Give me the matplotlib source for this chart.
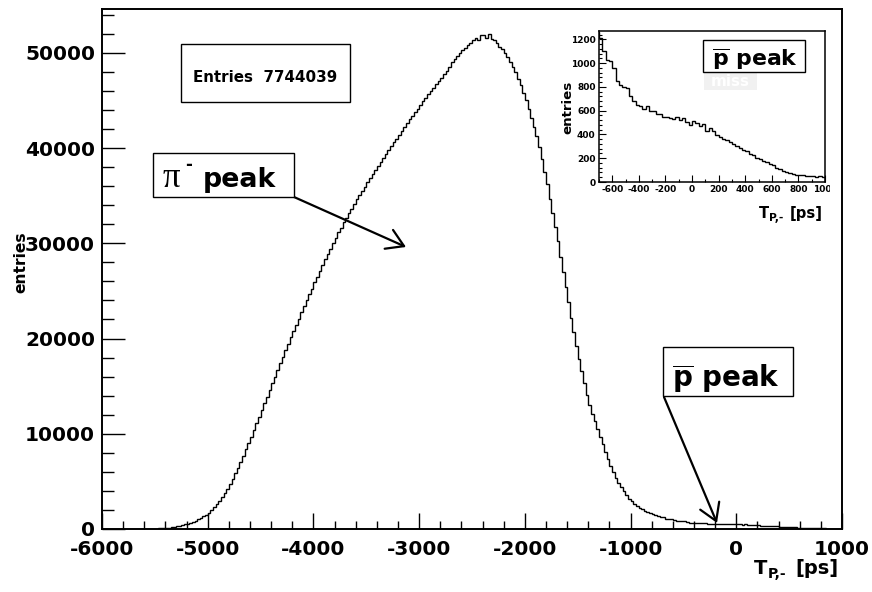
import matplotlib
matplotlib.use("Agg")
import matplotlib.pyplot as plt
from matplotlib.patches import Rectangle
from matplotlib.ticker import MultipleLocator
import numpy as np

# ---- histogram of T_{P,-}: 25 ps bins from -6000 to 1000 ps ----
x_min, x_max, bin_width = -6000, 1000, 25

# bins -6000 ... -725
counts_body = [
    0, 0, 0, 0, 0, 0, 0, 0, 0, 0, 0, 1, 2, 3, 5, 7,
    10, 15, 22, 30,
    40, 55, 72, 95,
    120, 150, 190, 235,
    280, 340, 410, 480,
    560, 650, 760, 880,
    1000, 1150, 1330, 1510,
    1700, 1980, 2270, 2580,
    2900, 3320, 3770, 4230,
    4700, 5250, 5850, 6400,
    7000, 7650, 8350, 9000,
    9700, 10400, 11100, 11800,
    12500, 13200, 13900, 14600,
    15300, 16000, 16700, 17400,
    18100, 18800, 19450, 20150,
    20800, 21450, 22100, 22750,
    23400, 24000, 24650, 25250,
    25900, 26500, 27100, 27700,
    28300, 28900, 29450, 30050,
    30600, 31150, 31650, 32200,
    32700, 33200, 33650, 34150,
    34600, 35050, 35500, 35950,
    36400, 36850, 37250, 37700,
    38100, 38550, 38950, 39400,
    39800, 40200, 40600, 41000,
    41400, 41800, 42200, 42600,
    43000, 43350, 43750, 44150,
    44500, 44900, 45250, 45650,
    46000, 46350, 46700, 47050,
    47400, 47800, 48100, 48550,
    49000, 49300, 49650, 49950,
    50300, 50550, 50850, 51050,
    51300, 51600, 51350, 51850,
    51900, 51600, 52000, 51500,
    51300, 51000, 50600, 50400,
    50000, 49550, 49000, 48500,
    48000, 47300, 46600, 45800,
    45000, 44100, 43200, 42250,
    41300, 40100, 38800, 37500,
    36200, 34700, 33200, 31700,
    30200, 28600, 27000, 25400,
    23800, 22200, 20700, 19200,
    17800, 16550, 15300, 14100,
    13000, 12100, 11300, 10500,
    9700, 8900, 8100, 7300,
    6600, 6000, 5400, 4850,
    4400, 3950, 3550, 3200,
    2900, 2650, 2400, 2200,
    2050, 1900, 1780, 1650,
    1550, 1430, 1330, 1260,
]

# bins -700 ... 975 (the anti-proton region)
counts_tail = [
    1210, 1100, 1030, 1020,
    960, 850, 820, 800,
    790, 720, 680, 650,
    640, 610, 640, 600,
    595, 575, 570, 550,
    545, 540, 530, 545,
    525, 535, 505, 480,
    515, 500, 470, 485,
    425, 450, 430, 395,
    380, 358, 350, 340,
    320, 305, 290, 270,
    262, 235, 225, 205,
    195, 175, 165, 148,
    140, 118, 110, 92,
    85, 75, 68, 60,
    55, 58, 50, 48,
    52, 45, 50, 42,
]

counts = np.array(counts_body + counts_tail, dtype=float)
edges = np.arange(x_min, x_max + bin_width, bin_width)

n_entries = 7744039
main_ylim = (0, 54600)
inset_xlim = (-700, 1000)
inset_ylim = (0, 1270)

# ---- canvas geometry (pixels of an 872x592 image) ----
W, H = 872, 592
plt.rcParams["font.family"] = "DejaVu Sans"
plt.rcParams["font.weight"] = "bold"
plt.rcParams["axes.unicode_minus"] = False
plt.rcParams["mathtext.fontset"] = "dejavusans"


def fx(px):
    return px / W


def fy(py):
    return 1 - py / H


def axes_rect(left, top, right, bottom):
    return [fx(left), fy(bottom), (right - left) / W, (bottom - top) / H]


fig = plt.figure(figsize=(W / 100, H / 100), dpi=100)
fig.patch.set_facecolor("white")
renderer = fig.canvas.get_renderer()


def axis_title(right, baseline, size):
    """Right-aligned 'T_{P,-} [ps]' built from plain text pieces."""
    em = size * 100 / 72
    t1 = fig.text(fx(right), fy(baseline), "[ps]", ha="right", va="baseline",
                  fontsize=size, fontweight="bold")
    left = t1.get_window_extent(renderer).x0 - 0.42 * em
    t2 = fig.text(left / W, fy(baseline + 0.22 * em), "P,-", ha="right",
                  va="baseline", fontsize=0.72 * size, fontweight="bold")
    left = t2.get_window_extent(renderer).x0 - 0.02 * em
    fig.text(left / W, fy(baseline), "T", ha="right", va="baseline",
             fontsize=size, fontweight="bold")


# ---- main histogram ----
ax = fig.add_axes(axes_rect(102, 9, 842, 529))
ax.stairs(counts, edges, color="black", lw=1.0)
ax.set_xlim(x_min, x_max)
ax.set_ylim(*main_ylim)
ax.xaxis.set_major_locator(MultipleLocator(1000))
ax.xaxis.set_minor_locator(MultipleLocator(200))
ax.yaxis.set_major_locator(MultipleLocator(10000))
ax.yaxis.set_minor_locator(MultipleLocator(2000))
ax.tick_params(axis="x", which="major", direction="in", length=11.5, width=1.0,
               labelsize=14.5, pad=8)
ax.tick_params(axis="x", which="minor", direction="in", length=5.8, width=1.0)
ax.tick_params(axis="y", which="major", direction="in", length=16.5, width=1.0,
               labelsize=14.5, pad=5)
ax.tick_params(axis="y", which="minor", direction="in", length=8.3, width=1.0)
for s in ax.spines.values():
    s.set_linewidth(1.4)
for lab in ax.get_xticklabels() + ax.get_yticklabels():
    lab.set_fontweight("bold")

axis_title(838, 574, 14)
fig.text(fx(21), fy(262), "entries", rotation=90, ha="center", va="center",
         fontsize=11.2, fontweight="bold")

# ---- inset: zoom on the anti-proton region ----
ins = fig.add_axes(axes_rect(599, 31, 825, 182))
ins.set_facecolor("white")
ins.stairs(counts, edges, color="black", lw=1.0)
ins.set_xlim(*inset_xlim)
ins.set_ylim(*inset_ylim)
ins.xaxis.set_major_locator(MultipleLocator(200))
ins.xaxis.set_minor_locator(MultipleLocator(100))
ins.yaxis.set_major_locator(MultipleLocator(200))
ins.yaxis.set_minor_locator(MultipleLocator(40))
ins.tick_params(which="major", direction="in", length=5, width=0.8,
                labelsize=6.5, pad=2.5)
ins.tick_params(which="minor", direction="in", length=2.5, width=0.8)
for lab in ins.get_xticklabels() + ins.get_yticklabels():
    lab.set_fontweight("bold")
for s in ins.spines.values():
    s.set_linewidth(1.1)
fig.text(fx(568), fy(107), "entries", rotation=90, ha="center", va="center",
         fontsize=9.6, fontweight="bold")
axis_title(823, 218, 10.6)


def box(left, top, right, bottom, lw=1.0, fc="white", ec="black", z=5):
    r = Rectangle((fx(left), fy(bottom)), (right - left) / W, (bottom - top) / H,
                  transform=fig.transFigure, facecolor=fc, edgecolor=ec,
                  linewidth=lw, zorder=z)
    fig.add_artist(r)


# the inset pad ends just right of its frame: crop the last tick label there
box(830, 184, 841, 201, lw=0, fc="white", ec="none", z=7)

# stat box of the inset, partly hidden under its title
box(704, 62, 757, 90, lw=0, fc="#f1f1f1", ec="none", z=4)
fig.text(fx(730), fy(82), "miss", ha="center", va="center", fontsize=11,
         color="white", fontweight="bold", zorder=4.5)

# inset title
box(703, 40, 805, 72)
fig.text(fx(712), fy(66), r"$\overline{\mathbf{p}}$ peak", ha="left",
         va="baseline", fontsize=15.8, fontweight="bold", zorder=6)

# entries box
box(181, 44, 350, 102)
fig.text(fx(193), fy(78), f"Entries  {n_entries}", ha="left", va="center",
         fontsize=10.9, fontweight="bold", zorder=6)

# pi- label
box(153, 153, 294, 197)
fig.text(fx(163), fy(187), "\u03c0", ha="left", va="baseline", fontsize=25,
         family="Liberation Serif", fontweight="normal", zorder=6)
fig.text(fx(185), fy(170), "-", ha="left", va="baseline", fontsize=12,
         fontweight="bold", zorder=6)
fig.text(fx(203), fy(187), "peak", ha="left", va="baseline", fontsize=19.3,
         fontweight="bold", zorder=6)

# anti-proton label
box(663, 347, 793, 396)
fig.text(fx(672), fy(387), r"$\overline{\mathbf{p}}$ peak", ha="left",
         va="baseline", fontsize=20, fontweight="bold", zorder=6)

# arrows (figure pixel coordinates, origin bottom-left)
arrow_kw = dict(arrowstyle="->,head_length=0.6,head_width=0.37", lw=1.6,
                color="black", shrinkA=0, shrinkB=0, mutation_scale=20)
ax.annotate("", xy=(406, H - 247), xytext=(294, H - 197),
            xycoords="figure pixels", textcoords="figure pixels",
            arrowprops=arrow_kw, annotation_clip=False)
ax.annotate("", xy=(717, H - 523), xytext=(664, H - 397),
            xycoords="figure pixels", textcoords="figure pixels",
            arrowprops=arrow_kw, annotation_clip=False)

fig.savefig("out.png", dpi=100, facecolor="white")
